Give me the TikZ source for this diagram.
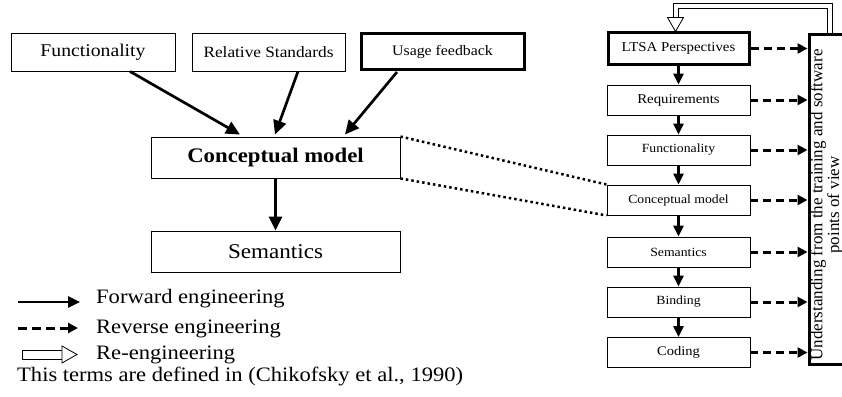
\documentclass[tikz,border=0pt]{standalone}
\usepackage{fontspec}
\setmainfont[FakeStretch=1.1]{Liberation Serif}
\newfontfamily\rotfont{Liberation Serif}
\usetikzlibrary{arrows.meta,calc}
\newcommand{\fsz}[1]{\fontsize{#1}{#1}\selectfont}
\begin{document}
\begin{tikzpicture}[x=1pt,y=1pt,
  box/.style={draw, line width=0.9pt, inner sep=0pt, align=center},
  thickbox/.style={box, line width=3pt},
  colbox/.style={box, minimum width=143pt, minimum height=30pt, font=\fsz{12.5}},
  fwd/.style={line width=2.7pt, -{Triangle[length=14pt,width=13pt]}},
  fwdsmall/.style={line width=3pt, -{Triangle[length=11pt,width=10pt]}},
  rev/.style={line width=3pt, dash pattern=on 8pt off 5pt, -{Triangle[length=10pt,width=10pt]}},
  dotline/.style={line width=2.5pt, dash pattern=on 2.5pt off 3pt},
  rengline/.style={line width=0.8pt, line join=miter},
  openhead/.style={draw, fill=white, line width=0.8pt, line join=miter},
  legtext/.style={anchor=base west, inner sep=0pt, font=\fsz{20.5}}
]
\clip (0,0) rectangle (842,-396);

% ---- left diagram ----
\node[box, minimum width=164pt, minimum height=38pt, font=\fsz{17.9}] (func) at (93,-52) {Functionality};
\node[box, minimum width=153pt, minimum height=38pt, font=\fsz{15.7}] (relstd) at (268.5,-52) {Relative Standards};
\node[thickbox, minimum width=163pt, minimum height=35pt, font=\fsz{14.4}] (usage) at (442.5,-51.5) {Usage feedback};
\node[box, minimum width=249pt, minimum height=41pt, font=\bfseries\fsz{20.7}] (cm) at (275.5,-157.5) {Conceptual model};
\node[box, minimum width=249pt, minimum height=41pt, font=\fsz{21}] (sem) at (275.5,-251.5) {Semantics};

\draw[fwd] ($(func.south)+(37,0)$) -- ($(cm.north)+(-35.5,2)$);
\draw[fwd] ($(relstd.south)+(29.5,0)$) -- ($(cm.north)+(-0.5,2)$);
\draw[fwd] ($(usage.south)+(-45.5,-1.5)$) -- ($(cm.north)+(69.5,2)$);
\draw[fwd] (cm.south) -- (sem.north);

% ---- right column ----
\node[thickbox, minimum width=141pt, minimum height=31pt, font=\fsz{13.5}] (ltsa) at (678.5,-48.5) {LTSA Perspectives};
\node[colbox, font=\fsz{13.5}] (req) at (678.5,-100) {Requirements};
\node[colbox] (rfunc) at (678.5,-150) {Functionality};
\node[colbox] (rcm) at (678.5,-200) {Conceptual model};
\node[colbox] (rsem) at (678.5,-252) {Semantics};
\node[colbox] (bind) at (678.5,-302) {Binding};
\node[colbox, font=\fsz{13.2}] (code) at (678.5,-352.5) {Coding};

\draw[fwdsmall] (ltsa.south) -- (req.north);
\draw[fwdsmall] (req.south) -- (rfunc.north);
\draw[fwdsmall] (rfunc.south) -- (rcm.north);
\draw[fwdsmall] (rcm.south) -- (rsem.north);
\draw[fwdsmall] (rsem.south) -- (bind.north);
\draw[fwdsmall] (bind.south) -- (code.north);

% big rotated box
\node[draw, line width=3pt, minimum width=41pt, minimum height=329pt, inner sep=0pt] (und) at (829.5,-199.5) {};
\node[rotate=90, align=center, inner sep=0pt, font=\rotfont\fontsize{17}{15}\selectfont] (undtext) at (826.5,-205)
  {Understanding from the training and software\\points of view};

\foreach \r in {ltsa,req,rfunc,rcm,rsem,bind,code}
  \draw[rev] (\r.east) -- (\r.east -| und.west);

% dotted links
\draw[dotline] (cm.north east) -- (rcm.north west);
\draw[dotline] (cm.south east) -- (rcm.south west);

% re-engineering loop (hollow double line)
\coordinate (rhead) at ($(ltsa.north)+(-3,14)$);
\draw[rengline] ($(und.north)+(3,-1.5)$) -- ++(0,31.5) -| ($(rhead)+(-2.5,0)$);
\draw[rengline] ($(und.north)+(-2,-1.5)$) -- ++(0,26.5) -| ($(rhead)+(2.5,0)$);
\draw[openhead] ($(rhead)+(-8,0)$) -- ($(rhead)+(8,0)$) -- ($(ltsa.north)+(-3,0)$) -- cycle;

% ---- legend ----
\coordinate (fwA) at (18,-302);
\coordinate (fwB) at (80,-302);
\draw[line width=2.7pt, -{Triangle[length=12pt,width=11pt]}] (fwA) -- (fwB);
\node[legtext] (fwT) at (96,-303) {Forward engineering};

\coordinate (rvA) at (18,-328);
\coordinate (rvB) at (78,-328);
\draw[line width=3pt, dash pattern=on 9pt off 5pt, -{Triangle[length=10pt,width=10pt]}] (rvA) -- (rvB);
\node[legtext] (rvT) at (96,-333) {Reverse engineering};

\coordinate (reA) at (22,-350);
\coordinate (reB) at (62,-359);
\coordinate (reC) at (77,-354.5);
\draw[rengline] (reA) rectangle (reB);
\draw[openhead] (62,-346) -- (reC) -- (62,-363) -- cycle;
\node[legtext] (reT) at (96,-359) {Re-engineering};

\node[legtext] (note) at (17,-381) {This terms are defined in (Chikofsky et al., 1990)};
\end{tikzpicture}
\end{document}
